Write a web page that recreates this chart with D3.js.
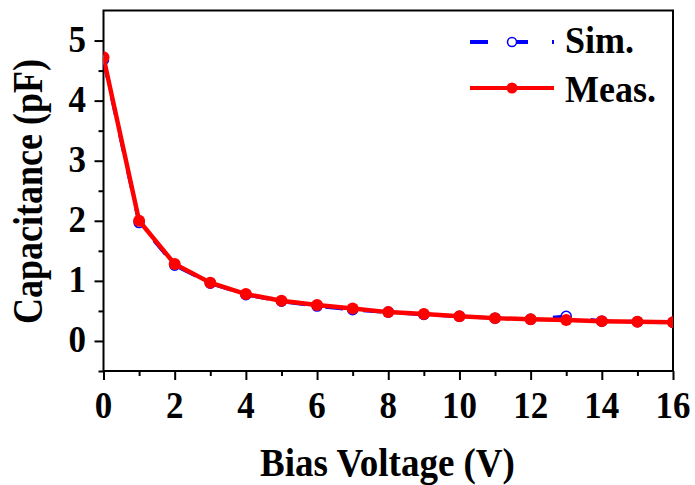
<!DOCTYPE html>
<html>
<head>
<meta charset="utf-8">
<script src="https://cdn.jsdelivr.net/npm/d3@7/dist/d3.min.js"></script>
<style>
  html, body { margin: 0; padding: 0; background: #fff; }
  svg { display: block; }
  text { font-family: "Liberation Serif", "Times New Roman", serif; font-weight: bold; fill: #000; }
</style>
</head>
<body>
<svg id="chart" width="695" height="485"></svg>
<script>
// Bias voltage (V)
const voltage = [0, 1, 2, 3, 4, 5, 6, 7, 8, 9, 10, 11, 12, 13, 14, 15, 16];
// Simulated capacitance (pF)
const simCap = [4.68, 1.97, 1.26, 0.96, 0.77, 0.66, 0.58, 0.52, 0.48, 0.44, 0.41, 0.38, 0.36, 0.41, 0.33, 0.32, 0.31];
// Measured capacitance (pF)
const measCap = [4.72, 2.0, 1.28, 0.97, 0.78, 0.67, 0.6, 0.54, 0.48, 0.45, 0.41, 0.38, 0.36, 0.35, 0.33, 0.32, 0.31];
const xTicks = [0, 2, 4, 6, 8, 10, 12, 14, 16];
const yTicks = [0, 1, 2, 3, 4, 5];
const seriesNames = ["Sim.", "Meas."];

const svg = d3.select("#chart");
const m = { left: 103.5, right: 673, top: 10.5, bottom: 371 };

const x = d3.scaleLinear().domain([0, 16]).range([m.left, m.right]);
const y = d3.scaleLinear().domain([-0.5, 5.5]).range([m.bottom, m.top]);

// clip marks to the plot frame
svg.append("clipPath").attr("id", "plot-clip")
  .append("rect")
  .attr("x", m.left).attr("y", m.top)
  .attr("width", m.right - m.left).attr("height", m.bottom - m.top);

// x axis: major ticks at even volts, minor at odd
const xAxis = svg.append("g").attr("transform", `translate(0,${m.bottom})`);
xAxis.call(d3.axisBottom(x).tickValues(xTicks).tickSize(9).tickFormat(""));
xAxis.append("g").call(d3.axisBottom(x).tickValues(d3.range(1, 16, 2)).tickSize(5).tickFormat(""));
// y axis: major ticks at integers, minor at halves
const yAxis = svg.append("g").attr("transform", `translate(${m.left},0)`);
yAxis.call(d3.axisLeft(y).tickValues(yTicks).tickSize(9).tickFormat(""));
yAxis.append("g").call(d3.axisLeft(y).tickValues([-0.5, 0.5, 1.5, 2.5, 3.5, 4.5]).tickSize(5).tickFormat(""));

svg.selectAll(".domain").remove();
svg.selectAll(".tick line").attr("stroke", "#000").attr("stroke-width", 2);

// tick labels (tall serif digits)
svg.append("g").selectAll("text").data(xTicks).enter().append("text")
  .attr("transform", d => `translate(${x(d)},418) scale(1,1.1)`)
  .attr("text-anchor", "middle").style("font-size", "35px")
  .text(d => d);
svg.append("g").selectAll("text").data(yTicks).enter().append("text")
  .attr("transform", d => `translate(86,${y(d) + 11.5}) scale(1,1.1)`)
  .attr("text-anchor", "end").style("font-size", "35px")
  .text(d => d);

// frame
svg.append("rect")
  .attr("x", m.left).attr("y", m.top)
  .attr("width", m.right - m.left).attr("height", m.bottom - m.top)
  .attr("fill", "none").attr("stroke", "#000").attr("stroke-width", 2);

// axis titles
svg.append("text")
  .attr("transform", "translate(387.5,476) scale(1,1.09)")
  .attr("text-anchor", "middle").style("font-size", "37px")
  .text("Bias Voltage (V)");
svg.append("text")
  .attr("transform", "translate(42,191.5) rotate(-90) scale(1,1.2)")
  .attr("text-anchor", "middle").style("font-size", "36px")
  .text("Capacitance (pF)");

const line = d3.line().x(d => x(d[0])).y(d => y(d[1]));
const simPts = voltage.map((v, i) => [v, simCap[i]]);
const measPts = voltage.map((v, i) => [v, measCap[i]]);

const plot = svg.append("g").attr("clip-path", "url(#plot-clip)");

// simulated: dashed blue with open circles
plot.append("path").datum(simPts).attr("d", line)
  .attr("fill", "none").attr("stroke", "#0000ff").attr("stroke-width", 3.5)
  .attr("stroke-dasharray", "18,20");
plot.selectAll(".sim-pt").data(simPts).enter().append("circle")
  .attr("cx", d => x(d[0])).attr("cy", d => y(d[1])).attr("r", 5)
  .attr("fill", "#fff").attr("stroke", "#0000ff").attr("stroke-width", 1.5);

// measured: solid red with filled circles
plot.append("path").datum(measPts).attr("d", line)
  .attr("fill", "none").attr("stroke", "#ff0000").attr("stroke-width", 4.5);
plot.selectAll(".meas-pt").data(measPts).enter().append("circle")
  .attr("cx", d => x(d[0])).attr("cy", d => y(d[1])).attr("r", 6)
  .attr("fill", "#ff0000");

// legend
const lg = svg.append("g");
[[470, 488], [508, 528], [552, 554]].forEach(([a, b]) => {
  lg.append("line").attr("x1", a).attr("x2", b).attr("y1", 42).attr("y2", 42)
    .attr("stroke", "#0000ff").attr("stroke-width", 4);
});
lg.append("circle").attr("cx", 512).attr("cy", 42).attr("r", 4.5)
  .attr("fill", "#fff").attr("stroke", "#0000ff").attr("stroke-width", 1.5);
lg.append("text").attr("transform", "translate(565,53) scale(1,1.05)")
  .style("font-size", "36px").text(seriesNames[0]);

lg.append("line").attr("x1", 470).attr("x2", 554).attr("y1", 88).attr("y2", 88)
  .attr("stroke", "#ff0000").attr("stroke-width", 4);
lg.append("circle").attr("cx", 512).attr("cy", 88).attr("r", 5.5).attr("fill", "#ff0000");
lg.append("text").attr("transform", "translate(565,102) scale(1,1.05)")
  .style("font-size", "36px").text(seriesNames[1]);
</script>
</body>
</html>
